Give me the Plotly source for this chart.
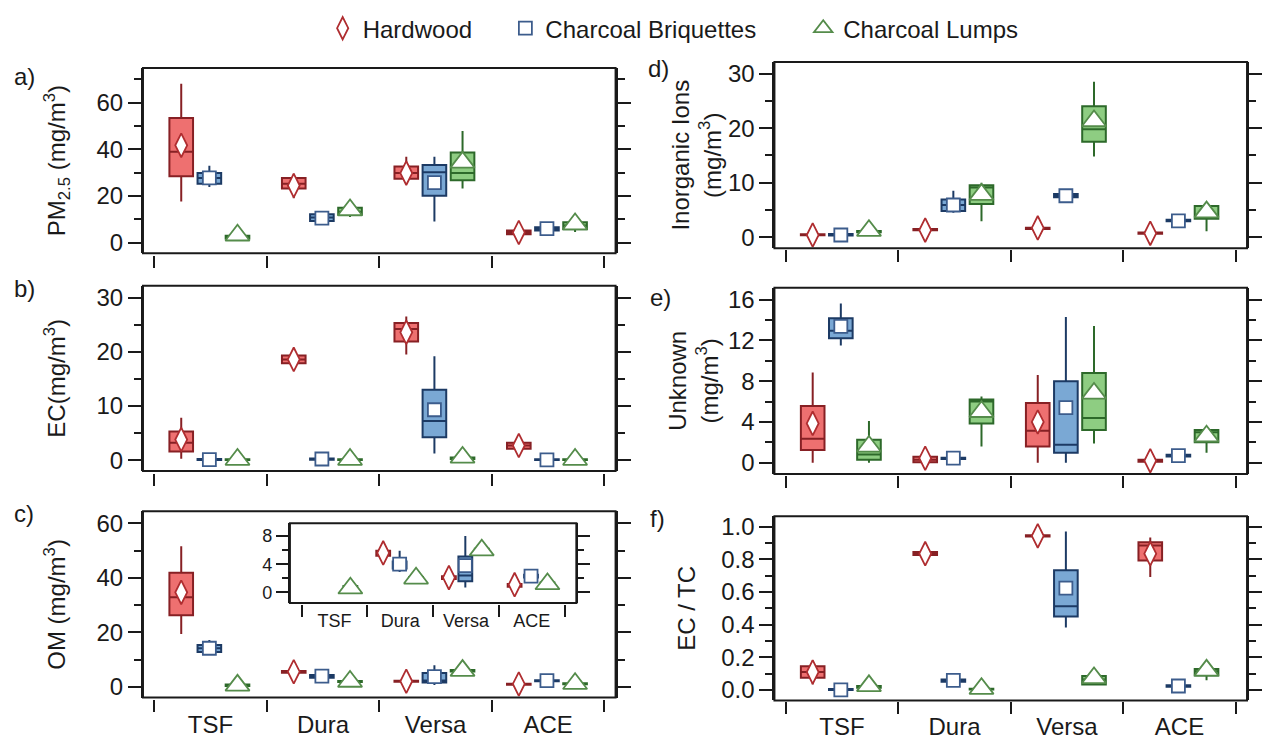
import plotly.graph_objects as go

W, H = 1262, 740
CATS = ["TSF", "Dura", "Versa", "ACE"]
FUELS = ["Hardwood", "Charcoal Briquettes", "Charcoal Lumps"]

# ---------------- data (TSF, Dura, Versa, ACE) ----------------
# a) PM2.5
PM25_HW = dict(lo=[17.6, 19.0, 25.3, 3.0], q1=[28.5, 23.2, 27.4, 3.6], med=[38.9, 25.3, 29.8, 4.4],
               q3=[53.4, 27.7, 32.6, 5.2], hi=[68.1, 29.5, 36.8, 6.0], mean=[41.7, 24.5, 29.8, 4.4])
PM25_BR = dict(lo=[23.9, 8.8, 9.1, 5.0], q1=[25.3, 9.3, 20.1, 5.2], med=[27.7, 10.8, 30.2, 6.0],
               q3=[29.8, 12.2, 33.3, 6.6], hi=[33.0, 12.6, 36.8, 7.0], mean=[27.8, 10.5, 25.7, 6.0])
PM25_LU = dict(lo=[1.5, 11.0, 23.2, 4.6], q1=[1.8, 12.0, 26.7, 5.8], med=[2.5, 13.3, 29.9, 7.4],
               q3=[3.0, 15.0, 38.6, 8.8], hi=[3.3, 16.0, 47.8, 9.4], mean=[3.2, 14.0, 34.4, 8.0])
# b) EC
EC_HW = dict(lo=[0.25, 17.6, 19.5, 1.9], q1=[1.6, 17.9, 21.9, 2.1], med=[3.2, 18.6, 24.2, 2.7],
             q3=[5.3, 19.3, 25.3, 3.2], hi=[7.8, 19.6, 26.5, 3.4], mean=[3.8, 18.6, 23.6, 2.7])
EC_BR = dict(lo=[0.0, 0.0, 1.2, 0.0], q1=[0.0, 0.05, 4.2, 0.0], med=[0.05, 0.15, 7.2, 0.05],
             q3=[0.2, 0.3, 13.0, 0.15], hi=[0.3, 0.4, 19.2, 0.2], mean=[0.1, 0.2, 9.3, 0.05])
EC_LU = dict(lo=[0.0, 0.0, 0.1, 0.0], q1=[0.0, 0.0, 0.2, 0.0], med=[0.05, 0.05, 0.3, 0.05],
             q3=[0.15, 0.15, 0.5, 0.15], hi=[0.2, 0.2, 0.6, 0.2], mean=[0.1, 0.1, 0.5, 0.1])
# c) OM
OM_HW = dict(lo=[19.4, 4.6, 1.6, 0.6], q1=[26.3, 5.2, 1.9, 0.8], med=[32.9, 5.5, 2.1, 1.0],
             q3=[41.9, 5.9, 2.3, 1.2], hi=[51.6, 6.4, 2.5, 1.4], mean=[34.7, 5.6, 2.1, 1.1])
OM_BR = dict(lo=[12.2, 2.9, 0.7, 2.0], q1=[12.8, 3.4, 1.6, 2.1], med=[14.2, 3.8, 2.4, 2.3],
             q3=[15.4, 4.4, 5.1, 2.5], hi=[17.2, 5.9, 8.0, 2.6], mean=[14.2, 4.0, 3.8, 2.3])
OM_LU = dict(lo=[0.2, 1.6, 5.4, 0.9], q1=[0.4, 1.8, 5.7, 1.0], med=[0.6, 2.0, 6.0, 1.2],
             q3=[0.9, 2.2, 6.2, 1.4], hi=[1.0, 2.3, 6.4, 1.5], mean=[0.6, 2.0, 6.0, 1.2])
# d) Inorganic ions
ION_HW = dict(lo=[0.3, 1.2, 1.4, 0.6], q1=[0.35, 1.25, 1.5, 0.65], med=[0.45, 1.4, 1.6, 0.75],
              q3=[0.55, 1.5, 1.75, 0.85], hi=[0.6, 1.55, 1.8, 0.9], mean=[0.4, 1.3, 1.7, 0.7])
ION_BR = dict(lo=[0.2, 4.5, 7.2, 2.8], q1=[0.3, 4.8, 7.3, 2.9], med=[0.45, 5.9, 7.6, 3.1],
              q3=[0.6, 6.9, 7.9, 3.2], hi=[0.7, 8.5, 8.0, 3.3], mean=[0.4, 5.9, 7.6, 3.0])
ION_LU = dict(lo=[0.8, 2.9, 14.8, 1.1], q1=[0.9, 6.1, 17.5, 3.4], med=[1.0, 9.1, 19.8, 3.6],
              q3=[1.15, 9.5, 24.0, 5.7], hi=[1.3, 10.0, 28.5, 6.2], mean=[1.2, 7.8, 21.3, 4.6])
# e) Unknown
UNK_HW = dict(lo=[0.0, 0.0, 0.0, 0.05], q1=[1.26, 0.05, 1.6, 0.1], med=[2.35, 0.3, 3.15, 0.2],
              q3=[5.57, 0.58, 5.86, 0.3], hi=[8.85, 0.7, 8.6, 0.35], mean=[3.86, 0.45, 4.0, 0.2])
UNK_BR = dict(lo=[11.5, 0.35, 0.0, 0.6], q1=[12.2, 0.38, 0.97, 0.62], med=[12.94, 0.42, 1.77, 0.7],
              q3=[14.17, 0.48, 8.0, 0.78], hi=[15.6, 0.5, 14.3, 0.8], mean=[13.36, 0.45, 5.4, 0.7])
UNK_LU = dict(lo=[0.0, 1.6, 1.9, 0.97], q1=[0.29, 3.86, 3.2, 2.0], med=[0.8, 6.0, 4.4, 3.0],
              q3=[2.25, 6.2, 8.8, 3.2], hi=[4.1, 6.5, 13.4, 3.6], mean=[1.6, 5.0, 6.8, 2.6])
# f) EC / TC
ECTC_HW = dict(lo=[0.034, 0.825, 0.938, 0.692], q1=[0.074, 0.826, 0.94, 0.793], med=[0.11, 0.835, 0.944, 0.885],
               q3=[0.145, 0.845, 0.948, 0.905], hi=[0.18, 0.846, 0.95, 0.934], mean=[0.11, 0.835, 0.944, 0.835])
ECTC_BR = dict(lo=[0.0, 0.048, 0.382, 0.018], q1=[0.0, 0.05, 0.45, 0.02], med=[0.002, 0.058, 0.513, 0.024],
               q3=[0.006, 0.064, 0.734, 0.028], hi=[0.008, 0.066, 0.97, 0.03], mean=[0.0, 0.058, 0.624, 0.024])
ECTC_LU = dict(lo=[0.012, 0.0, 0.03, 0.06], q1=[0.014, 0.002, 0.034, 0.089], med=[0.018, 0.004, 0.064, 0.115],
               q3=[0.024, 0.007, 0.085, 0.129], hi=[0.028, 0.01, 0.09, 0.14], mean=[0.025, 0.008, 0.074, 0.12])

# ---------------- styles ----------------
FONT = "Liberation Sans, Arial, sans-serif"
INK = "#1a1a1a"
FS = 24
OFFSETS = [-0.26, -0.01, 0.24]
BOX_W = 0.21
BOX_FILL = ["rgb(238,112,112)", "rgb(122,168,212)", "rgb(142,205,130)"]
BOX_LINE = ["rgb(135,32,36)", "rgb(28,58,100)", "rgb(45,105,42)"]
MEAN_SYM = ["diamond-tall", "square", "triangle-up"]
MEAN_SIZE = [17, 13, 21]
MEAN_LINE = ["rgb(175,45,48)", "rgb(60,92,140)", "rgb(85,140,75)"]


def px(x):
    return x / W


def py(y):
    return 1 - y / H


LEFT_X = (144, 620)
RIGHT_X = (780, 1256)

# key, data, xdom(px), ydom(px top,bottom), yrange, dtick, minor, title, tick y px, standoff, label, label pos, bottom
PANELS = [
    ("a", (PM25_HW, PM25_BR, PM25_LU), LEFT_X, (66, 254), [-4.5, 74.8], 20, 10,
     "PM<sub>2.5</sub> (mg/m<sup>3</sup>)", 256, 24, "a)", (12, 75), False),
    ("b", (EC_HW, EC_BR, EC_LU), LEFT_X, (287, 475), [-2.0, 32.2], 10, 5,
     "EC(mg/m<sup>3</sup>)", 477, 24, "b)", (12, 290), False),
    ("c", (OM_HW, OM_BR, OM_LU), LEFT_X, (516, 705), [-3.87, 64.4], 20, 10,
     "OM (mg/m<sup>3</sup>)", 707, 24, "c)", (12, 518), True),
    ("d", (ION_HW, ION_BR, ION_LU), RIGHT_X, (60, 249), [-2.04, 32.1], 10, 5,
     "Inorganic Ions<br>(mg/m<sup>3</sup>)", 250, 0, "d)", (651, 66), False),
    ("e", (UNK_HW, UNK_BR, UNK_LU), RIGHT_X, (289, 478), [-1.09, 17.16], 4, 2,
     "Unknown<br>(mg/m<sup>3</sup>)", 479, 3, "e)", (653, 299), False),
    ("f", (ECTC_HW, ECTC_BR, ECTC_LU), RIGHT_X, (521, 708), [-0.0646, 1.064], 0.2, 0.1,
     "EC / TC", 709, 19, "f)", (653, 523), True),
]
INSET_X = (292, 580.5)
INSET_Y = (528, 609)

fig = go.Figure()
layout = dict(
    width=W, height=H, margin=dict(l=0, r=0, t=0, b=0),
    paper_bgcolor="white", plot_bgcolor="white",
    font=dict(family=FONT, size=FS, color=INK),
    showlegend=True,
)
shapes = []
annotations = []


def add_series(data, xa, ya, legend_on=False):
    for k, d in enumerate(data):
        xs = [i + OFFSETS[k] for i in range(len(CATS))]
        fig.add_trace(go.Box(
            x=xs, q1=d["q1"], median=d["med"], q3=d["q3"],
            lowerfence=d["lo"], upperfence=d["hi"],
            width=BOX_W, whiskerwidth=0, boxpoints=False,
            fillcolor=BOX_FILL[k], line=dict(color=BOX_LINE[k], width=2),
            xaxis=xa, yaxis=ya, showlegend=False, hoverinfo="skip"))
    for k, d in enumerate(data):
        xs = [i + OFFSETS[k] for i in range(len(CATS))]
        fig.add_trace(go.Scatter(
            x=xs, y=d["mean"], mode="markers", name=FUELS[k],
            marker=dict(symbol=MEAN_SYM[k], size=MEAN_SIZE[k], color="white",
                        line=dict(color=MEAN_LINE[k], width=1.8)),
            xaxis=xa, yaxis=ya, showlegend=legend_on,
            legend=["legend", "legend2", "legend3"][k], hoverinfo="skip"))


def xaxis_def(xdom, tick_y, labels, rng, ticklen=12, fs=FS, standoff=9):
    return dict(
        domain=[px(xdom[0]), px(xdom[1])], range=rng, anchor="free", position=py(tick_y),
        showline=False, showgrid=False, zeroline=False,
        tickmode="array", tickvals=[0, 1, 2, 3], ticktext=CATS, ticks="",
        showticklabels=labels, tickfont=dict(size=fs, color=INK), ticklabelstandoff=standoff,
        minor=dict(tickmode="array", tickvals=[-0.5, 0.5, 1.5, 2.5, 3.5], ticks="outside",
                   ticklen=ticklen, tickwidth=2, tickcolor=INK, showgrid=False),
        fixedrange=True,
    )


def yaxis_def(n, ydom, rng, dtick, minor, title, standoff, fs=FS, tl=13, mtl=7, fmt=None):
    d = dict(
        domain=[py(ydom[1]), py(ydom[0])], range=rng, anchor="x" + ("" if n == 1 else str(n)),
        showline=True, linewidth=2, linecolor=INK, mirror="ticks",
        ticks="outside", ticklen=tl, tickwidth=2, tickcolor=INK, dtick=dtick, tick0=0,
        minor=dict(dtick=minor, tick0=0, ticks="outside", ticklen=mtl, tickwidth=2, tickcolor=INK),
        showgrid=False, zeroline=False, tickfont=dict(size=fs, color=INK), fixedrange=True,
    )
    if title:
        d["title"] = dict(text=title, standoff=standoff, font=dict(size=fs, color=INK))
    if fmt:
        d["tickformat"] = fmt
    return d


for n, P in enumerate(PANELS, start=1):
    key, data, xdom, ydom, yr, dt, mn, title, tick_y, standoff, lab, lpos, bottom = P
    sfx = "" if n == 1 else str(n)
    xa, ya = "x" + sfx, "y" + sfx
    add_series(data, xa, ya, legend_on=(n == 1))
    layout["xaxis" + sfx] = xaxis_def(xdom, tick_y, bottom, [-0.6, 3.6])
    layout["yaxis" + sfx] = yaxis_def(
        n, ydom, yr, dt, mn, title, standoff, fmt=(".1f" if key == "f" else None))
    shapes.append(dict(type="rect", xref=xa + " domain", yref=ya + " domain",
                       x0=0, x1=1, y0=0, y1=1, line=dict(color=INK, width=2), layer="above"))
    annotations.append(dict(text=lab, xref="paper", yref="paper", x=px(lpos[0]), y=py(lpos[1]),
                            xanchor="left", yanchor="middle", showarrow=False,
                            font=dict(size=FS, color=INK)))

# inset of panel c (same OM data, zoomed y range)
add_series((OM_HW, OM_BR, OM_LU), "x7", "y7")
layout["xaxis7"] = xaxis_def(INSET_X, 610, True, [-0.68, 3.68], ticklen=12, fs=18, standoff=4)
layout["yaxis7"] = yaxis_def(7, INSET_Y, [-1.49, 9.82], 4, 2, None, 0, fs=18, tl=12, mtl=6)
shapes.append(dict(type="rect", xref="x7 domain", yref="y7 domain", x0=0, x1=1, y0=0, y1=1,
                   line=dict(color=INK, width=2), layer="above"))

# legends (one entry each)
LEG_X = [325, 509, 809]
for k, name in enumerate(["legend", "legend2", "legend3"]):
    layout[name] = dict(x=px(LEG_X[k]), y=py(26), xanchor="left", yanchor="middle",
                        orientation="h", bgcolor="rgba(0,0,0,0)", borderwidth=0,
                        font=dict(size=FS, color=INK, family=FONT), itemsizing="trace")

layout["shapes"] = shapes
layout["annotations"] = annotations
fig.update_layout(**layout)
fig.write_html("out.html", config={"displayModeBar": False},
               post_script="document.body.style.margin='0';")
